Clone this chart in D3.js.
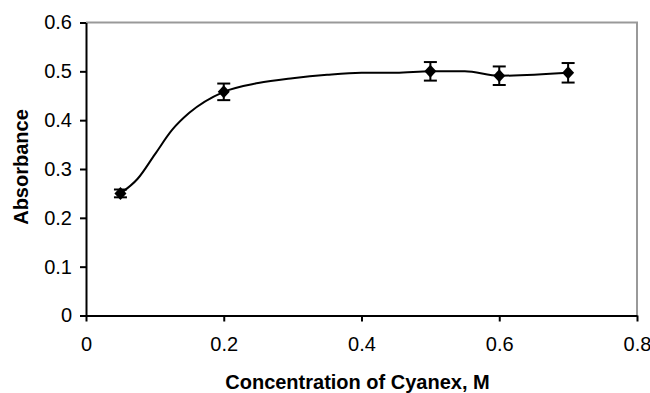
<!DOCTYPE html>
<html>
<head>
<meta charset="utf-8">
<script src="https://cdn.jsdelivr.net/npm/d3@7"></script>
<style>
  body { margin: 0; background: #fff; }
  svg { font-family: "Liberation Sans", Arial, sans-serif; }
</style>
</head>
<body>
<figure id="chart" style="margin:0"></figure>
<script>
// measured points
const conc = [0.05, 0.2, 0.5, 0.6, 0.7];
const absorbance = [0.25, 0.458, 0.5, 0.491, 0.497];
const errors = [0.008, 0.017, 0.019, 0.019, 0.02];

// smoothed trend line
const fitX = [0.05, 0.075, 0.1, 0.125, 0.15, 0.2, 0.25, 0.3, 0.35, 0.4, 0.45, 0.5, 0.55, 0.6, 0.7];
const fitY = [0.25, 0.28, 0.33, 0.38, 0.415, 0.458, 0.476, 0.486, 0.493, 0.497, 0.497, 0.5, 0.5, 0.491, 0.497];

const xTicks = [0, 0.2, 0.4, 0.6, 0.8];
const yTicks = [0, 0.1, 0.2, 0.3, 0.4, 0.5, 0.6];

const width = 650, height = 393;
const margin = { top: 22.5, right: 13, bottom: 77.5, left: 86 };
const w = width - margin.left - margin.right;
const h = height - margin.top - margin.bottom;

const svg = d3.select("figure#chart")
  .append("svg")
  .attr("width", width)
  .attr("height", height);

const g = svg.append("g")
  .attr("transform", "translate(" + margin.left + "," + margin.top + ")");

const x = d3.scaleLinear().domain([0, 0.8]).range([0, w]);
const y = d3.scaleLinear().domain([0, 0.6]).range([h, 0]);

// grey plot-area border (top and right)
g.append("path")
  .attr("d", "M0,0H" + w + "V" + h)
  .attr("fill", "none")
  .attr("stroke", "#999")
  .attr("stroke-width", 2);

// X axis
const xAxis = g.append("g")
  .attr("transform", "translate(0," + h + ")")
  .call(d3.axisBottom(x).tickValues(xTicks).tickFormat(d3.format("")).tickSize(6).tickSizeOuter(0));
xAxis.select(".domain").attr("stroke", "#000").attr("stroke-width", 2);
xAxis.selectAll(".tick line").attr("stroke", "#000").attr("stroke-width", 2);
xAxis.selectAll("text")
  .attr("y", 21)
  .style("font-size", "20px")
  .attr("fill", "#000");

// Y axis
const yAxis = g.append("g")
  .call(d3.axisLeft(y).tickValues(yTicks).tickFormat(d3.format("")).tickSize(6).tickSizeOuter(0));
yAxis.select(".domain").attr("stroke", "#000").attr("stroke-width", 2);
yAxis.selectAll(".tick line").attr("stroke", "#000").attr("stroke-width", 2);
yAxis.selectAll("text")
  .attr("x", -14)
  .style("font-size", "20px")
  .attr("fill", "#000");

// axis titles
svg.append("text")
  .attr("x", margin.left + w / 2 - 4)
  .attr("y", 389)
  .attr("text-anchor", "middle")
  .style("font-size", "20px")
  .style("font-weight", "bold")
  .text("Concentration of Cyanex, M");

svg.append("text")
  .attr("transform", "translate(28," + 167 + ") rotate(-90)")
  .attr("text-anchor", "middle")
  .style("font-size", "20px")
  .style("font-weight", "bold")
  .text("Absorbance");

// smooth line
const fit = fitX.map((d, i) => [d, fitY[i]]);
g.append("path")
  .datum(fit)
  .attr("fill", "none")
  .attr("stroke", "#000")
  .attr("stroke-width", 2)
  .attr("d", d3.line().x(d => x(d[0])).y(d => y(d[1])).curve(d3.curveMonotoneX));

// error bars and markers
const pts = conc.map((d, i) => ({ x: d, y: absorbance[i], e: errors[i] }));
const eb = g.selectAll(".err").data(pts).enter().append("g");
eb.append("line")
  .attr("x1", d => x(d.x)).attr("x2", d => x(d.x))
  .attr("y1", d => y(d.y + d.e)).attr("y2", d => y(d.y - d.e))
  .attr("stroke", "#000").attr("stroke-width", 2);
[1, -1].forEach(s => {
  eb.append("line")
    .attr("x1", d => x(d.x) - 6.5).attr("x2", d => x(d.x) + 6.5)
    .attr("y1", d => y(d.y + s * d.e)).attr("y2", d => y(d.y + s * d.e))
    .attr("stroke", "#000").attr("stroke-width", 2);
});

g.selectAll(".marker").data(pts).enter().append("path")
  .attr("transform", d => "translate(" + x(d.x) + "," + y(d.y) + ")")
  .attr("d", "M0,-6.5L6,0L0,6.5L-6,0Z")
  .attr("fill", "#000");
</script>
</body>
</html>
